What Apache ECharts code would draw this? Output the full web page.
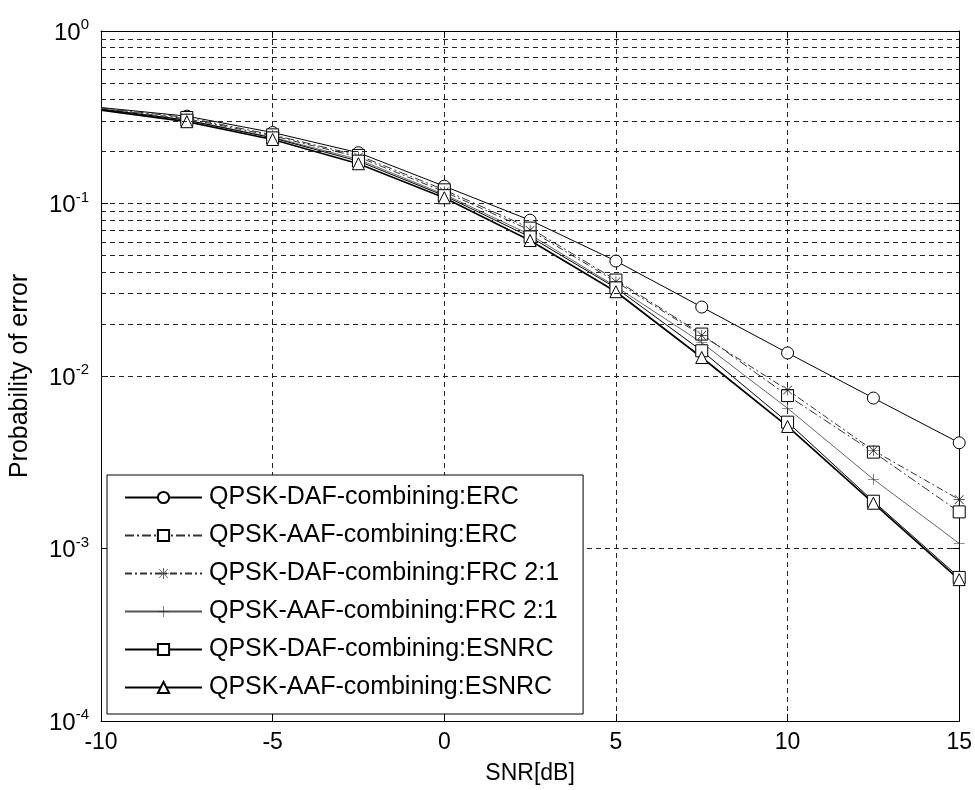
<!DOCTYPE html>
<html>
<head>
<meta charset="utf-8">
<script src="https://cdn.jsdelivr.net/npm/echarts@6/dist/echarts.min.js"></script>
<style>
  html, body { margin: 0; padding: 0; background: #fff; }
  #chart { width: 975px; height: 790px; }
</style>
</head>
<body>
<div id="chart"></div>
<script>
// SNR points (dB)
const snr = [-10, -7.5, -5, -2.5, 0, 2.5, 5, 7.5, 10, 12.5, 15];

// probability of error per scheme
const dafErc   = [0.360, 0.321, 0.258, 0.197, 0.126, 0.080, 0.0464, 0.0251, 0.0136, 0.00745, 0.00410];
const aafErc   = [0.358, 0.315, 0.250, 0.190, 0.120, 0.072, 0.0360, 0.0175, 0.0077, 0.00362, 0.00163];
const dafFrc   = [0.355, 0.310, 0.247, 0.186, 0.117, 0.070, 0.0352, 0.0172, 0.0083, 0.00370, 0.00192];
const aafFrc   = [0.353, 0.305, 0.242, 0.180, 0.113, 0.066, 0.0330, 0.0156, 0.0065, 0.00252, 0.00107];
const dafEsnrc = [0.352, 0.304, 0.240, 0.176, 0.111, 0.064, 0.0324, 0.0140, 0.0054, 0.00188, 0.00068];
const aafEsnrc = [0.348, 0.298, 0.235, 0.170, 0.108, 0.061, 0.0308, 0.0128, 0.0051, 0.00183, 0.00066];

const seriesNames = [
  'QPSK-DAF-combining:ERC',
  'QPSK-AAF-combining:ERC',
  'QPSK-DAF-combining:FRC 2:1',
  'QPSK-AAF-combining:FRC 2:1',
  'QPSK-DAF-combining:ESNRC',
  'QPSK-AAF-combining:ESNRC'
];

// log grid: decades and the 2..9 minor lines between them
const decades = [1e-4, 1e-3, 1e-2, 1e-1];
const minorSteps = [2, 3, 4, 5, 6, 7, 8, 9];

const FONT = 'Liberation Sans, Arial, sans-serif';
const starPath = 'path://M9.4 0h1.2v20h-1.2z M0 9.4h20v1.2h-20z M2.6 1.8L18.2 17.4L17.4 18.2L1.8 2.6z M17.4 1.8L18.2 2.6L2.6 18.2L1.8 17.4z';
const plusPath = 'path://M9.5 0h1v20h-1z M0 9.5h20v1h-20z';

const minorLines = [];
decades.forEach(d => minorSteps.forEach(m => minorLines.push({ yAxis: d * m })));

function toData(vals) {
  // no marker at the first point, like the original plot
  return vals.map((v, i) => i === 0 ? { value: [snr[i], v], symbol: 'none' } : [snr[i], v]);
}

function mkSeries(name, vals, symbol, lineStyle, filled) {
  return {
    name: name,
    type: 'line',
    data: toData(vals),
    symbol: symbol,
    symbolSize: filled ? 11 : 12,
    showSymbol: true,
    lineStyle: Object.assign({ color: '#000', width: 1 }, lineStyle),
    itemStyle: filled
      ? { color: '#222', borderWidth: 0 }
      : { color: '#fff', borderColor: '#000', borderWidth: 1 },
    emphasis: { disabled: true },
    z: 3
  };
}

const series = [
  mkSeries(seriesNames[0], dafErc, 'circle', { width: 1 }, false),
  mkSeries(seriesNames[1], aafErc, 'rect', { width: 1, color: '#333', type: [9, 3, 2, 3] }, false),
  mkSeries(seriesNames[2], dafFrc, starPath, { width: 1, color: '#333', type: [7, 3, 2, 3] }, true),
  mkSeries(seriesNames[3], aafFrc, plusPath, { width: 0.9, color: '#555' }, true),
  mkSeries(seriesNames[4], dafEsnrc, 'rect', { width: 1 }, false),
  mkSeries(seriesNames[5], aafEsnrc, 'triangle', { width: 1.7 }, false)
];

// minor log grid lines through the y scale
series[0].markLine = {
  silent: true,
  symbol: ['none', 'none'],
  label: { show: false },
  lineStyle: { color: '#222', width: 1, type: [5, 4] },
  data: minorLines,
  animation: false
};

const chart = echarts.init(document.getElementById('chart'));
chart.setOption({
  animation: false,
  backgroundColor: '#fff',
  textStyle: { fontFamily: FONT },
  grid: { left: 101, top: 31, right: 15, bottom: 69 },
  legend: {
    orient: 'vertical',
    left: 107,
    top: 475,
    padding: [10, 24, 14, 17],
    itemGap: 13,
    itemWidth: 77,
    itemHeight: 14,
    backgroundColor: '#fff',
    borderColor: '#000',
    borderWidth: 1,
    borderRadius: 0,
    selectedMode: false,
    textStyle: { fontFamily: FONT, fontSize: 25, color: '#000', padding: [0, 0, 0, 2] },
    data: seriesNames
  },
  xAxis: [{
    type: 'value',
    min: -10, max: 15, interval: 5,
    name: 'SNR[dB]',
    nameLocation: 'middle',
    nameGap: 41,
    nameTextStyle: { fontFamily: FONT, fontSize: 23, color: '#000' },
    axisLine: { onZero: false, lineStyle: { color: '#000', width: 1 } },
    axisTick: { inside: true, length: 7, lineStyle: { color: '#000' } },
    axisLabel: { fontFamily: FONT, fontSize: 23, color: '#000', margin: 10 },
    splitLine: { show: true, lineStyle: { color: '#222', width: 1, type: [5, 4] } }
  }, {
    type: 'value',
    position: 'top',
    min: -10, max: 15, interval: 5,
    axisLine: { onZero: false, lineStyle: { color: '#000', width: 1 } },
    axisTick: { inside: true, length: 7, lineStyle: { color: '#000' } },
    axisLabel: { show: false },
    splitLine: { show: false }
  }],
  yAxis: [{
    type: 'log',
    logBase: 10,
    min: 1e-4, max: 1,
    name: 'Probability of error',
    nameLocation: 'middle',
    nameGap: 68,
    nameTextStyle: { fontFamily: FONT, fontSize: 25, color: '#000' },
    axisLine: { onZero: false, lineStyle: { color: '#000', width: 1 } },
    axisTick: { inside: true, length: 7, lineStyle: { color: '#000' } },
    axisLabel: {
      margin: 12,
      formatter: v => '{b|10}{s|' + Math.round(Math.log10(v)) + '}',
      rich: {
        b: { fontFamily: FONT, fontSize: 24, color: '#000', padding: [4, 0, 0, 0] },
        s: { fontFamily: FONT, fontSize: 15, color: '#000', padding: [0, 0, 12, 0] }
      }
    },
    splitLine: { show: true, lineStyle: { color: '#222', width: 1, type: [5, 4] } }
  }, {
    type: 'log',
    logBase: 10,
    position: 'right',
    min: 1e-4, max: 1,
    axisLine: { onZero: false, lineStyle: { color: '#000', width: 1 } },
    axisTick: { inside: true, length: 7, lineStyle: { color: '#000' } },
    axisLabel: { show: false },
    splitLine: { show: false }
  }],
  series: series
});
</script>
</body>
</html>
